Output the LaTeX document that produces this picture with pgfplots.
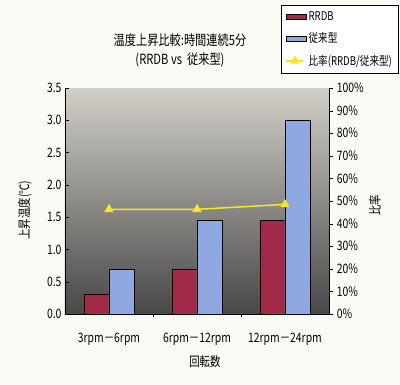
\documentclass[border=0pt]{standalone}
\usepackage{fontspec}
\setmainfont[FakeStretch=0.8]{Noto Sans CJK JP}
\usepackage{pgfplots}
\pgfplotsset{compat=1.18}
\definecolor{rrdb}{RGB}{160,42,72}
\definecolor{conv}{RGB}{143,168,224}
\definecolor{ratio}{RGB}{245,232,30}
\definecolor{bgc}{RGB}{251,251,245}
\definecolor{bgtop}{RGB}{210,207,200}
\definecolor{bgmid}{RGB}{150,149,146}
\definecolor{bgbot}{RGB}{72,72,72}
\begin{document}
\begin{tikzpicture}[x=1pt,y=1pt]
\fill[bgc] (-65,-70) rectangle (335,314);
\useasboundingbox (-65,-70) rectangle (335,314);
\begin{axis}[
  at={(0,0)}, anchor=south west,
  scale only axis, width=264pt, height=226pt,
  axis background/.style={top color=bgtop, middle color=bgmid, bottom color=bgbot},
  xmin=-0.5, xmax=2.5, ymin=0, ymax=3.5,
  ybar=0pt, bar width=25pt,
  xtick={0,1,2},
  xticklabels={3rpm－6rpm, 6rpm－12rpm, 12rpm－24rpm},
  minor xtick={0.5,1.5},
  major x tick style={draw=none},
  x tick label style={yshift=-11pt},
  ytick={0,0.5,...,3.5},
  yticklabel style={/pgf/number format/.cd, fixed, fixed zerofill, precision=1},
  /pgf/number format/assume math mode=true,
  axis y line*=left,
  axis x line*=bottom,
  ticklabel style={font=\fontsize{13}{15}\selectfont},
  ylabel={上昇温度(℃)},
  ylabel style={at={(axis description cs:-0.152,0.46)}, anchor=center, font=\fontsize{13}{15}\selectfont},
  xlabel={回転数},
  xlabel style={at={(axis description cs:0.53,-0.212)}, anchor=center, font=\fontsize{13}{15}\selectfont},
  axis line style={black},
  tick style={black},
]
\addplot[fill=rrdb, draw=black] coordinates {(0,0.30) (1,0.70) (2,1.45)};
\addplot[fill=conv, draw=black] coordinates {(0,0.69) (1,1.45) (2,3.00)};
\end{axis}
\begin{axis}[
  at={(0,0)}, anchor=south west,
  scale only axis, width=264pt, height=226pt,
  xmin=-0.5, xmax=2.5, ymin=0, ymax=100,
  axis x line=none,
  axis y line*=right,
  ytick={0,10,...,100},
  yticklabel={\pgfmathprintnumber{\tick}\%},
  /pgf/number format/assume math mode=true,
  tick align=outside,
  ticklabel style={font=\fontsize{13}{15}\selectfont},
  ylabel={比率},
  ylabel style={at={(axis description cs:1.174,0.48)}, anchor=center, font=\fontsize{13}{15}\selectfont},
  axis line style={black},
  tick style={black},
  legend style={at={(axis description cs:1.262,1.367)}, anchor=north east,
    draw=black, fill=white, font=\fontsize{12}{14}\selectfont,
    row sep=7pt, inner sep=4pt},
  legend cell align=left,
]
\addlegendimage{area legend, fill=rrdb, draw=black, legend image code/.code={\draw[fill=rrdb,draw=black] (0pt,-2.5pt) rectangle (20pt,2.5pt);}}
\addlegendentry{RRDB}
\addlegendimage{area legend, fill=conv, draw=black, legend image code/.code={\draw[fill=conv,draw=black] (0pt,-2.5pt) rectangle (20pt,2.5pt);}}
\addlegendentry{従来型}
\addplot[ratio, line width=1.5pt, mark=triangle*, mark size=4pt, mark options={fill=ratio, draw=ratio}] coordinates {(0,46.3) (1,46.3) (2,48.5)};
\addlegendentry{比率(RRDB/従来型)}
\end{axis}
\node[font=\fontsize{14}{16}\selectfont] at (115,274) {温度上昇比較:時間連続5分};
\node[font=\fontsize{14}{16}\selectfont] at (115,254) {(RRDB vs\ \ 従来型)};
\end{tikzpicture}
\end{document}
